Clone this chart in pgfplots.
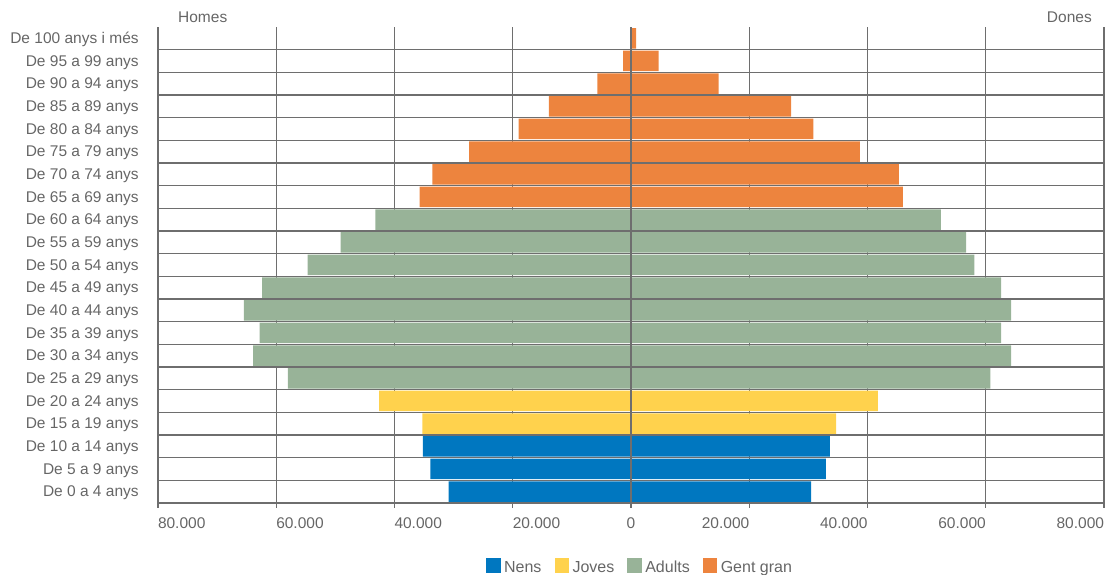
\documentclass[border=0pt]{standalone}
\usepackage{pgfplots}
\pgfplotsset{compat=1.18}
\usepackage{fontspec}
\setmainfont{Liberation Sans}
\definecolor{cNens}{HTML}{0077C0}
\definecolor{cJoves}{HTML}{FFD24D}
\definecolor{cAdults}{HTML}{98B398}
\definecolor{cGran}{HTML}{ED843E}
\definecolor{gridc}{HTML}{6E6E6E}
\definecolor{textc}{HTML}{666666}
\begin{document}
\begin{tikzpicture}
\useasboundingbox (0pt,0pt) rectangle (1106pt,575pt);
\begin{axis}[
  at={(158pt,67pt)}, anchor=south west,
  scale only axis, width=946pt, height=481pt,
  xmin=-80000, xmax=80000, ymin=-0.7206, ymax=20.5,
  clip=false, scaled x ticks=false,
  axis line style={draw=none},
  xtick={-80000,-60000,-40000,-20000,0,20000,40000,60000,80000},
  xticklabels={\makebox[0pt][l]{80.000},\makebox[0pt][l]{60.000},\makebox[0pt][l]{40.000},\makebox[0pt][l]{20.000},0,\makebox[0pt][r]{20.000},\makebox[0pt][r]{40.000},\makebox[0pt][r]{60.000},\makebox[0pt][r]{80.000}},
  ytick={0,...,20},
  yticklabels={De 0 a 4 anys,De 5 a 9 anys,De 10 a 14 anys,De 15 a 19 anys,De 20 a 24 anys,De 25 a 29 anys,De 30 a 34 anys,De 35 a 39 anys,De 40 a 44 anys,De 45 a 49 anys,De 50 a 54 anys,De 55 a 59 anys,De 60 a 64 anys,De 65 a 69 anys,De 70 a 74 anys,De 75 a 79 anys,De 80 a 84 anys,De 85 a 89 anys,De 90 a 94 anys,De 95 a 99 anys,De 100 anys i més},
  minor ytick={-0.5,0.5,...,19.5},
  xmajorgrids, yminorgrids,
  major grid style={color=gridc, line width=1.1pt},
  minor grid style={color=gridc, line width=1.2pt},
  major tick length=0pt, minor tick length=0pt,
  tick label style={font=\fontsize{15.5}{18}\selectfont, text=textc},
  xticklabel style={yshift=-6.5pt},
  yticklabel style={xshift=-15.8pt, yshift=-1.5pt},
  legend style={at={(0.5085,-0.125)}, anchor=center, draw=none, fill=none,
    legend columns=4, font=\fontsize{16}{18}\selectfont, text=textc,
    nodes={inner xsep=0pt, text height=11pt, text depth=3pt},
    /tikz/every odd column/.append style={column sep=3.3pt},
    /tikz/every even column/.append style={column sep=13pt}},
  legend image code/.code={\fill[#1] (0pt,-4pt) rectangle (14.7pt,10.7pt);},
]
% women (legend)
\addplot[xbar, bar width=20.5pt, bar shift=0pt, fill=cNens, draw=none] coordinates {(30470,0) (32940,1) (33650,2)};
\addlegendentry{Nens}
\addplot[xbar, bar width=20.5pt, bar shift=0pt, fill=cJoves, draw=none] coordinates {(34700,3) (41770,4)};
\addlegendentry{Joves}
\addplot[xbar, bar width=20.5pt, bar shift=0pt, fill=cAdults, draw=none] coordinates {(60800,5) (64300,6) (62600,7) (64300,8) (62600,9) (58080,10) (56670,11) (52430,12)};
\addlegendentry{Adults}
\addplot[xbar, bar width=20.5pt, bar shift=0pt, fill=cGran, draw=none] coordinates {(45990,13) (45320,14) (38720,15) (30830,16) (27100,17) (14830,18) (4680,19) (850,20)};
\addlegendentry{Gent gran}
% men
\addplot[forget plot, xbar, bar width=20.5pt, bar shift=0pt, fill=cNens, draw=none] coordinates {(-30860,0) (-33950,1) (-35190,2)};
\addplot[forget plot, xbar, bar width=20.5pt, bar shift=0pt, fill=cJoves, draw=none] coordinates {(-35290,3) (-42600,4)};
\addplot[forget plot, xbar, bar width=20.5pt, bar shift=0pt, fill=cAdults, draw=none] coordinates {(-58020,5) (-63900,6) (-62830,7) (-65480,8) (-62380,9) (-54700,10) (-49100,11) (-43220,12)};
\addplot[forget plot, xbar, bar width=20.5pt, bar shift=0pt, fill=cGran, draw=none] coordinates {(-35730,13) (-33600,14) (-27390,15) (-19000,16) (-13870,17) (-5700,18) (-1350,19) (-100,20)};
\draw[gridc, line width=1.2pt] (axis cs:0,-0.7206) -- (axis cs:0,20.5);
\node[anchor=west, inner sep=0pt, font=\fontsize{15.5}{18}\selectfont, text=textc] at (rel axis cs:0.0211,1.0208) {Homes};
\node[anchor=east, inner sep=0pt, font=\fontsize{15.5}{18}\selectfont, text=textc] at (rel axis cs:0.9873,1.0208) {Dones};
\end{axis}
\end{tikzpicture}
\end{document}
